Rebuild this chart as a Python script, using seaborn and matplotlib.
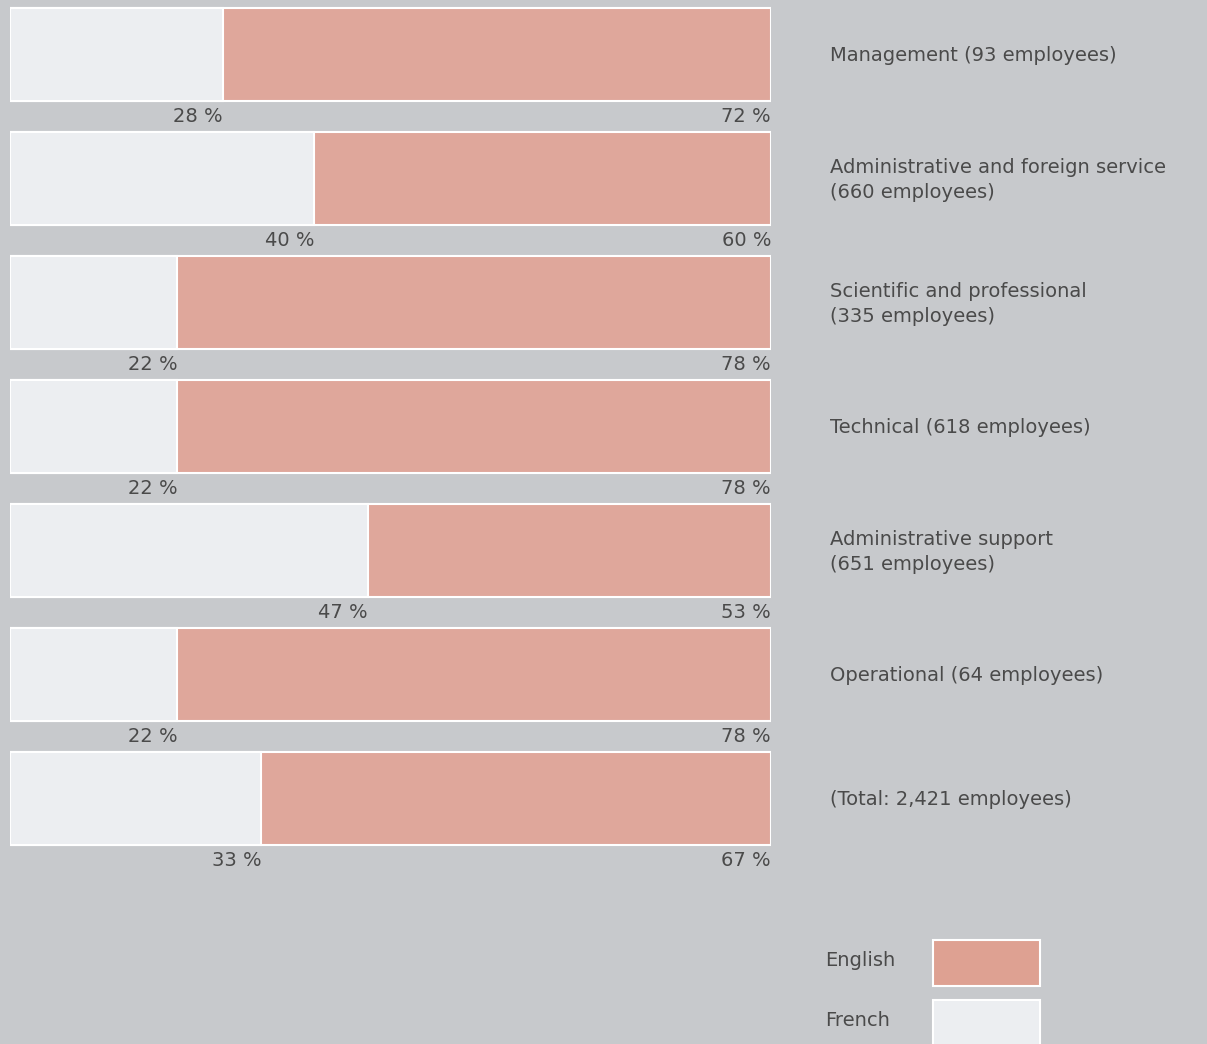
import matplotlib
matplotlib.use("Agg")
import matplotlib.pyplot as plt
import seaborn as sns
import pandas as pd
from matplotlib.patches import Rectangle

categories = [
    "Management (93 employees)",
    "Administrative and foreign service\n(660 employees)",
    "Scientific and professional\n(335 employees)",
    "Technical (618 employees)",
    "Administrative support\n(651 employees)",
    "Operational (64 employees)",
    "(Total: 2,421 employees)",
]
french = [28, 40, 22, 22, 47, 22, 33]
english = [72, 60, 78, 78, 53, 78, 67]
legend_labels = ["English", "French"]

BG = "#c7c9cc"
ENG = "#dfa79b"
ENG_LEG = "#dea192"
FRE = "#eceef1"
TXT = "#4a4a4a"

sns.set_theme(style="white")
plt.rcParams["font.family"] = ["DejaVu Sans"]

df = pd.DataFrame({"cat": categories, "french": french, "english": english})
df["total"] = df["french"] + df["english"]

W, H = 1207, 1044
fig = plt.figure(figsize=(W / 100, H / 100), dpi=100, facecolor=BG)
ax = fig.add_axes([10 / W, 0, (771 - 10) / W, 1])
ax.set_facecolor(BG)

sns.barplot(data=df, y="cat", x="total", orient="h", color=ENG, width=0.75,
            edgecolor="white", linewidth=1.5, saturation=1, ax=ax)
sns.barplot(data=df, y="cat", x="french", orient="h", color=FRE, width=0.75,
            edgecolor="white", linewidth=1.5, saturation=1, ax=ax)

ax.set_xlim(0, 100)
ax.set_ylim((H - 54.5) / 124, -54.5 / 124)
ax.set_xlabel("")
ax.set_ylabel("")
ax.set_xticks([])
ax.set_yticks([])
for s in ax.spines.values():
    s.set_visible(False)

for i, (f, e, c) in enumerate(zip(french, english, categories)):
    ax.text(f, i + 0.5, f"{f} %", ha="right", va="center", fontsize=14,
            color=TXT)
    ax.text(f + e, i + 0.5, f"{e} %", ha="right", va="center", fontsize=14,
            color=TXT)
    ax.text(107.75, i + 0.01, c, ha="left", va="center", fontsize=14,
            color=TXT, linespacing=1.42, clip_on=False)

# legend (text left, swatch right)
leg_colors = [ENG_LEG, FRE]
leg_tops = [940, 1000]
for lab, col, top in zip(legend_labels, leg_colors, leg_tops):
    fig.add_artist(Rectangle((933 / W, 1 - (top + 46) / H), 107 / W, 46 / H,
                             transform=fig.transFigure, facecolor=col,
                             edgecolor="white", linewidth=1.5))
    fig.text(825 / W, 1 - (top + 20) / H, lab, ha="left", va="center",
             fontsize=14, color=TXT)

fig.savefig("out.png", dpi=100, facecolor=BG)
